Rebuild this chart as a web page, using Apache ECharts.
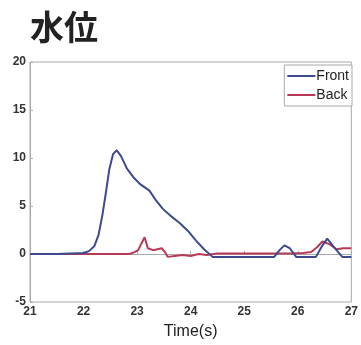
<!DOCTYPE html>
<html><head><meta charset="utf-8">
<script src="https://cdn.jsdelivr.net/npm/echarts@6/dist/echarts.min.js"></script>
<style>html,body{margin:0;padding:0;background:#fff}#c{width:361px;height:345px}</style>
</head><body><div id="c"></div>
<script>
const xTicks = [21, 22, 23, 24, 25, 26, 27];
const yTicks = [-5, 0, 5, 10, 15, 20];
const frontTime = [21, 21.5, 22.0, 22.1, 22.2, 22.28, 22.35, 22.42, 22.48, 22.55, 22.62, 22.7, 22.81, 22.93, 23.05, 23.23, 23.35, 23.48, 23.62, 23.8, 23.95, 24.1, 24.25, 24.41, 25.56, 25.66, 25.75, 25.85, 25.97, 26.34, 26.45, 26.55, 26.68, 26.83, 27];
const frontValue = [0, 0, 0.1, 0.3, 0.8, 2.0, 4.0, 6.5, 8.8, 10.4, 10.8, 10.2, 8.9, 8.0, 7.3, 6.6, 5.6, 4.7, 4.0, 3.2, 2.4, 1.4, 0.5, -0.3, -0.3, 0.4, 0.9, 0.6, -0.3, -0.3, 0.8, 1.6, 0.7, -0.3, -0.3];
const backTime = [21, 22.0, 22.86, 22.95, 23.02, 23.08, 23.14, 23.2, 23.3, 23.38, 23.46, 23.52, 23.57, 23.7, 23.85, 24.0, 24.15, 24.3, 24.5, 25.0, 25.5, 25.9, 26.1, 26.25, 26.36, 26.46, 26.6, 26.72, 26.85, 27];
const backValue = [0, 0, 0, 0.2, 0.4, 1.1, 1.75, 0.6, 0.4, 0.5, 0.6, 0.2, -0.3, -0.2, -0.1, -0.2, 0, -0.1, 0.05, 0.05, 0.05, 0.05, 0.1, 0.2, 0.7, 1.3, 1.0, 0.5, 0.6, 0.6];

const chart = echarts.init(document.getElementById('c'));
const lbl = {color: '#333', fontFamily: 'Liberation Sans', fontWeight: 'bold', fontSize: 12};
chart.setOption({
  animation: false,
  title: {text: '水位', left: 25, top: 5, textStyle: {fontFamily: 'Noto Sans CJK JP', fontWeight: 'bold', fontSize: 34, color: '#222'}},
  legend: {
    orient: 'vertical', right: 9, top: 65, itemGap: 5, padding: [4, 3, 4, 3],
    borderColor: '#aaa', borderWidth: 1, backgroundColor: '#fff',
    icon: 'rect', itemWidth: 28, itemHeight: 2,
    textStyle: {fontFamily: 'Liberation Sans', fontSize: 14, color: '#222', padding: [0, 0, 0, -4]},
    data: ['Front', 'Back']
  },
  grid: {left: 30, right: 9, top: 62, bottom: 42, show: true, borderColor: '#aaa', borderWidth: 1},
  xAxis: {
    type: 'value', min: 21, max: 27, interval: 1,
    name: 'Time(s)', nameLocation: 'middle', nameGap: 22,
    nameTextStyle: {fontFamily: 'Liberation Sans', fontSize: 16, color: '#222'},
    axisLine: {lineStyle: {color: '#aaa'}},
    axisTick: {inside: true, length: 3, lineStyle: {color: '#aaa'}},
    axisLabel: Object.assign({margin: 4, formatter: v => xTicks.includes(v) ? String(v) : ''}, lbl),
    splitLine: {show: false}
  },
  yAxis: {
    type: 'value', min: -5, max: 20, interval: 5,
    axisLine: {show: true, lineStyle: {color: '#aaa'}},
    axisTick: {show: true, inside: true, length: 3, lineStyle: {color: '#aaa'}},
    axisLabel: Object.assign({margin: 4, formatter: v => yTicks.includes(v) ? String(v) : ''}, lbl),
    splitLine: {show: false}
  },
  series: [
    {name: 'Front', type: 'line', showSymbol: false, color: '#3d4a90', lineStyle: {width: 2, color: '#3d4a90'},
     data: frontTime.map((t, i) => [t, frontValue[i]]), z: 3},
    {name: 'Back', type: 'line', showSymbol: false, color: '#b83a55', lineStyle: {width: 2, color: '#b83a55'},
     data: backTime.map((t, i) => [t, backValue[i]]), z: 2}
  ]
});
</script></body></html>
